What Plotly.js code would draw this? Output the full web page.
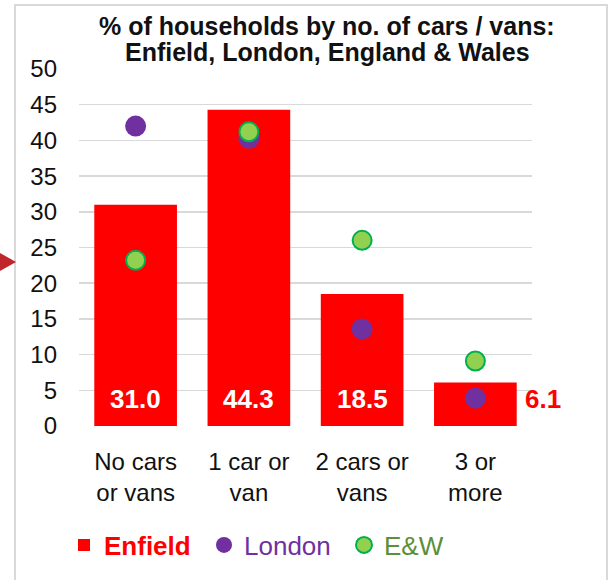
<!DOCTYPE html>
<html>
<head>
<meta charset="utf-8">
<script src="https://cdn.plot.ly/plotly-3.0.1.min.js"></script>
<style>
  html, body { margin: 0; padding: 0; background: #ffffff; }
  #chart { width: 612px; height: 580px; }
</style>
</head>
<body>
<div id="chart"></div>
<script>
// data
const categories = ['No cars<br>or vans', '1 car or<br>van', '2 cars or<br>vans', '3 or<br>more'];
const enfield = [31.0, 44.3, 18.5, 6.1];
const london = [42.0, 40.3, 13.6, 3.9];
const englandWales = [23.2, 41.2, 26.0, 9.1];
const yTicks = [0, 5, 10, 15, 20, 25, 30, 35, 40, 45, 50];

// plot area in pixels: x 79..532, y 69..426
const M = { l: 79, r: 80, t: 69, b: 154 };
const W = 612, H = 580;
const pw = W - M.l - M.r, ph = H - M.t - M.b;
const X = p => (p - M.l) / pw;
const Y = p => (H - M.b - p) / ph;

const FONT = 'Liberation Sans, Arial, sans-serif';

const traceEnfield = {
    x: categories,
    y: enfield,
    type: 'bar',
    name: '<b>Enfield</b>',
    marker: { color: '#ff0000' },
};

const traceLondon = {
    x: categories,
    y: london,
    type: 'scatter',
    mode: 'markers',
    name: 'London',
    marker: { color: '#7030a0', size: 21 },
};

const traceEW = {
    x: categories,
    y: englandWales,
    type: 'scatter',
    mode: 'markers',
    name: 'E&W',
    marker: { color: '#92d050', size: 19, line: { color: '#00b050', width: 2 } },
};

// value labels: white inside the bar foot, the small last one red beside the bar
const labels = enfield.map((v, i) => {
    const last = i === enfield.length - 1;
    return {
        x: categories[i], y: 0, xref: 'x', yref: 'y',
        text: '<b>' + v.toFixed(1) + '</b>',
        showarrow: false,
        yanchor: 'bottom',
        yshift: 10,
        xshift: last ? 68 : 0,
        font: { family: FONT, size: 26, color: last ? '#ff0000' : '#ffffff' },
    };
});

const layout = {
    width: W,
    height: H,
    margin: M,
    paper_bgcolor: '#ffffff',
    plot_bgcolor: '#ffffff',
    font: { family: FONT, size: 24, color: '#111111' },
    showlegend: true,
    bargap: 0.27,
    xaxis: {
        type: 'category',
        range: [-0.5, categories.length - 0.5],
        showgrid: false,
        showline: false,
        zeroline: false,
        ticks: '',
        ticklabelstandoff: 19,
        tickfont: { size: 24, color: '#111111' },
    },
    yaxis: {
        range: [0, 50],
        tickvals: yTicks,
        ticktext: yTicks.map(String),
        showgrid: true,
        gridcolor: '#d9d9d9',
        gridwidth: 1.5,
        zeroline: false,
        showline: false,
        ticks: '',
        ticklabelstandoff: 21,
        tickfont: { size: 24, color: '#111111' },
    },
    legend: {
        orientation: 'h',
        x: X(64), xanchor: 'left',
        y: Y(545), yanchor: 'middle',
        font: { family: FONT, size: 26 },
        entrywidth: 95,
        entrywidthmode: 'pixels',
        bgcolor: 'rgba(0,0,0,0)',
        traceorder: 'normal',
    },
    shapes: [
        // outer frame of the chart
        { type: 'rect', xref: 'paper', yref: 'paper', x0: X(15), x1: X(607), y0: Y(595), y1: Y(5),
          line: { color: '#d9d9d9', width: 2 }, fillcolor: 'rgba(0,0,0,0)', layer: 'below' },
        // title box hides the top gridline
        { type: 'rect', xref: 'paper', yref: 'paper', x0: X(93), x1: X(535), y0: Y(72), y1: Y(10),
          line: { width: 0 }, fillcolor: '#ffffff', layer: 'above' },
        // pointer at the left edge
        { type: 'path', xref: 'paper', yref: 'paper',
          path: `M ${X(0)},${Y(253)} L ${X(16)},${Y(262)} L ${X(0)},${Y(271)} Z`,
          line: { width: 0 }, fillcolor: '#c0272d', layer: 'above' },
    ],
    annotations: [
        { xref: 'paper', yref: 'paper', x: X(327), y: Y(26), xanchor: 'center', yanchor: 'middle',
          text: '<b>% of households by no. of cars / vans:</b>', showarrow: false,
          font: { family: FONT, size: 25, color: '#111111' } },
        { xref: 'paper', yref: 'paper', x: X(327), y: Y(52), xanchor: 'center', yanchor: 'middle',
          text: '<b>Enfield, London, England & Wales</b>', showarrow: false,
          font: { family: FONT, size: 25, color: '#111111' } },
        ...labels,
    ],
};

Plotly.newPlot('chart', [traceEnfield, traceLondon, traceEW], layout, {
    staticPlot: true,
    displayModeBar: false,
}).then(() => {
    // per-item legend text colours
    const cols = ['#ff0000', '#7030a0', '#5b8f3a'];
    document.querySelectorAll('.legend .traces .legendtext').forEach((t, i) => {
        t.style.fill = cols[i];
    });
});
</script>
</body>
</html>
